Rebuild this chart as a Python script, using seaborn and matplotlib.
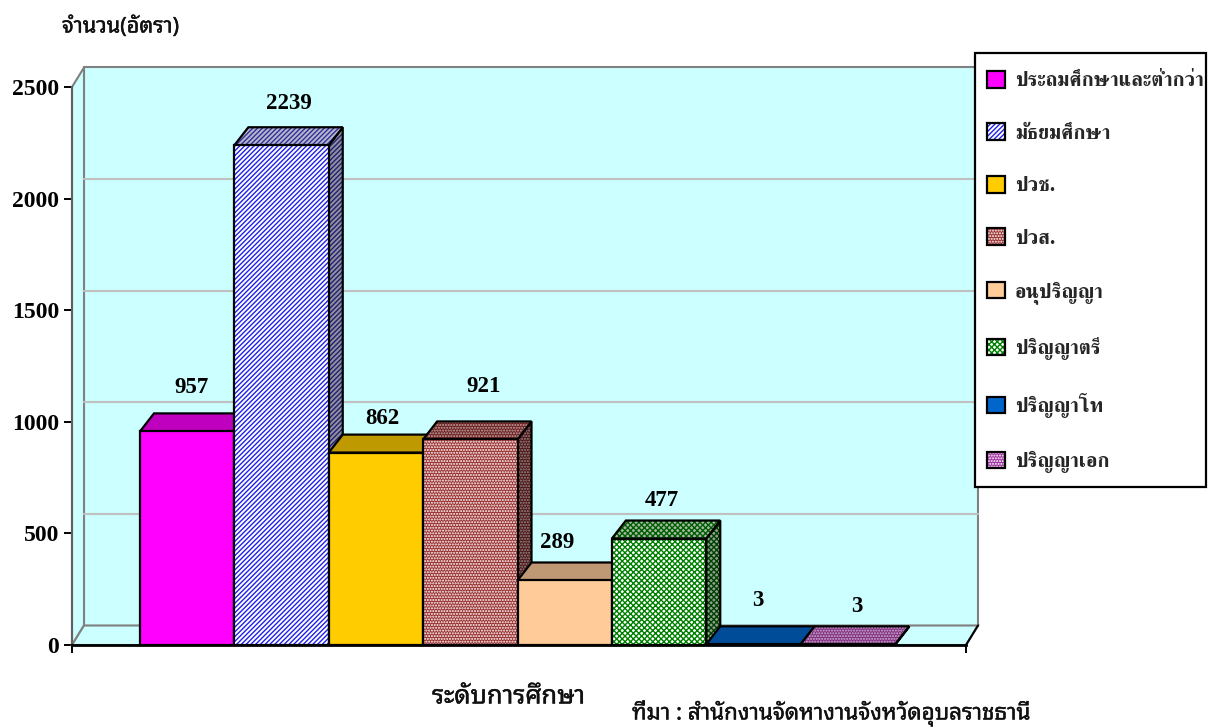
import matplotlib
matplotlib.use("Agg")
import matplotlib.pyplot as plt
import matplotlib.patheffects as pe
from matplotlib.legend_handler import HandlerBase
from matplotlib.patches import Patch, Polygon, Rectangle
import seaborn as sns

# Datos
niveles = ["ประถมศึกษาและต่ำกว่า", "มัธยมศึกษา", "ปวช.", "ปวส.", "อนุปริญญา",
           "ปริญญาตรี", "ปริญญาโท", "ปริญญาเอก"]
cantidades = [957, 2239, 862, 921, 289, 477, 3, 3]
ticks_y = [0, 500, 1000, 1500, 2000, 2500]

# Estilos por barra: cara, trama, color de trama, tapa, lateral
caras = ["#FF00FF", "#FFFFFF", "#FFCC00", "#9A3030", "#FFCC99", "#FFFFFF", "#0066CC", "#A030A0"]
tramas = [None, "///////", None, "......", None, "xxxxxx", None, "......"]
color_trama = ["#FF00FF", "#2020E8", "#FFCC00", "#FFFFFF", "#FFCC99", "#008000", "#0066CC", "#FFFFFF"]
tapas = ["#BF00BF", "#B8B8C8", "#BF9900", "#6A2020", "#BF9973", "#A8B8A8", "#004C99", "#803080"]
tapas_trama = ["#BF00BF", "#3030A0", "#BF9900", "#C8A8A8", "#BF9973", "#006000", "#004C99", "#D0B0D0"]
laterales = ["#A000A0", "#9090A0", "#A08000", "#4A1818", "#A08060", "#90A090", "#003C80", "#602060"]
lat_trama = ["#A000A0", "#202070", "#A08000", "#A08888", "#A08060", "#004000", "#003C80", "#B090B0"]

# Desplazamiento de etiquetas en pixeles respecto al centro de cada barra
etiqueta_dx = [4, 7, 6, 13, -8, 3, 4, 9]
etiqueta_dy = [44, 42, 34, 53, 38, 38, 44, 38]

sns.set_style("white")
plt.rcParams["hatch.linewidth"] = 1.0
plt.rcParams["axes.unicode_minus"] = False

W, H = 1210, 728
fig = plt.figure(figsize=(W / 100, H / 100), dpi=100)
ax = fig.add_axes([72 / W, (H - 645) / H, (966 - 72) / W, (645 - 87) / H])

# ancho de barra 94.4 px, primera barra empieza en x=140
px_x = 94.4
px_y = (645 - 87) / 2500
x0, x1 = -0.5 - (140 - 72) / px_x, 7.5 + (966 - 895) / px_x

# profundidad de la pared y de las barras
pared_dx, pared_dy = 12 / px_x, 19.5 / px_y
barra_dx, barra_dy = 14 / px_x, 18 / px_y

# Pared de fondo, piso y pared lateral
fondo = "#CCFFFF"
gris = "#808080"
kw = dict(facecolor=fondo, edgecolor=gris, linewidth=1.5, clip_on=False, zorder=1)
ax.add_patch(Polygon([(x0 + pared_dx, pared_dy), (x1 + pared_dx, pared_dy),
                      (x1 + pared_dx, 2500 + pared_dy), (x0 + pared_dx, 2500 + pared_dy)], **kw))
ax.add_patch(Polygon([(x0, 0), (x0 + pared_dx, pared_dy), (x0 + pared_dx, 2500 + pared_dy), (x0, 2500)], **kw))
ax.add_patch(Polygon([(x0, 0), (x1, 0), (x1 + pared_dx, pared_dy), (x0 + pared_dx, pared_dy)], **kw))
ax.plot([x1, x1 + pared_dx], [0, pared_dy], color="black", lw=1.5, clip_on=False, zorder=2)
for t in ticks_y[1:-1]:
    ax.plot([x0 + pared_dx, x1 + pared_dx], [t + pared_dy] * 2, color="#C0C0C0", lw=1.5, clip_on=False, zorder=2)

# Barras
antes = len(ax.patches)
df = {"nivel": niveles, "cantidad": cantidades}
sns.barplot(data=df, x="nivel", y="cantidad", hue="nivel", palette=caras, width=1.0,
            dodge=False, legend=False, saturation=1, ax=ax)
barras = list(ax.patches)[antes:]
ax.set_xlim(x0, x1)
ax.set_ylim(0, 2500)

for i, barra in enumerate(barras):
    z = 3 + i * 0.1
    izq, ancho, alto = barra.get_x(), barra.get_width(), barra.get_height()
    der = izq + ancho
    # lateral y tapa
    lateral = [(der, 0), (der + barra_dx, barra_dy), (der + barra_dx, alto + barra_dy), (der, alto)]
    tapa = [(izq, alto), (der, alto), (der + barra_dx, alto + barra_dy), (izq + barra_dx, alto + barra_dy)]
    ax.add_patch(Polygon(lateral, facecolor=laterales[i], edgecolor=lat_trama[i], hatch=tramas[i], lw=0, zorder=z, clip_on=False))
    ax.add_patch(Polygon(lateral, fill=False, edgecolor="black", lw=1.6, zorder=z + 0.01, clip_on=False))
    ax.add_patch(Polygon(tapa, facecolor=tapas[i], edgecolor=tapas_trama[i], hatch=tramas[i], lw=0, zorder=z + 0.02, clip_on=False))
    ax.add_patch(Polygon(tapa, fill=False, edgecolor="black", lw=1.6, zorder=z + 0.03, clip_on=False))
    # cara frontal
    barra.set_facecolor(caras[i])
    barra.set_edgecolor(color_trama[i])
    barra.set_hatch(tramas[i])
    barra.set_linewidth(0)
    barra.set_zorder(z + 0.04)
    ax.add_patch(Rectangle((izq, 0), ancho, alto, fill=False, edgecolor="black", lw=1.6, zorder=z + 0.05))
    # etiqueta de valor
    ax.annotate(str(cantidades[i]), (izq + ancho / 2, alto), xytext=(etiqueta_dx[i], etiqueta_dy[i]),
                textcoords="offset pixels", ha="center", va="center", fontsize=16.5, fontweight="bold",
                family="Liberation Serif", color="black", zorder=10, annotation_clip=False)

# Ejes
ax.set_xlabel("")
ax.set_ylabel("")
ax.set_facecolor("none")
ax.set_xticks([x0, x1])
ax.set_xticklabels(["", ""])
ax.set_yticks(ticks_y)
ax.set_yticklabels([str(t) for t in ticks_y], fontsize=17, fontweight="bold", family="Liberation Serif", color="black")
ax.tick_params(axis="both", which="both", left=True, bottom=True, length=5.8, width=1.4, color="black", pad=3.6)
sns.despine(ax=ax, top=True, right=True)
ax.spines["left"].set_color("#606060")
ax.spines["left"].set_linewidth(1.5)
ax.spines["left"].set_zorder(20)
ax.spines["bottom"].set_color("black")
ax.spines["bottom"].set_linewidth(2)
ax.spines["bottom"].set_zorder(20)


class CuadroConBorde(HandlerBase):
    """Cuadro de leyenda con trama de color y borde negro."""

    def create_artists(self, legend, orig, xd, yd, width, height, fontsize, trans):
        relleno = Rectangle((-xd, -yd), width, height, facecolor=orig.get_facecolor(),
                            edgecolor=orig.get_edgecolor(), hatch=orig.get_hatch(), lw=0, transform=trans)
        borde = Rectangle((-xd, -yd), width, height, fill=False, edgecolor="black", lw=1.6, transform=trans)
        return [relleno, borde]


# Leyenda: marco aparte para fijar el relleno horizontal y vertical
fig.add_artist(Rectangle((975 / W, 1 - 487 / H), (1206 - 975) / W, (487 - 53) / H, transform=fig.transFigure,
                         facecolor="white", edgecolor="black", lw=1.6, zorder=30))
entradas = [Patch(facecolor=caras[i], edgecolor=color_trama[i], hatch=tramas[i], label=niveles[i])
            for i in range(len(niveles))]
marcos = fig.legend(handles=entradas, loc="upper left", bbox_to_anchor=(987 / W, 1 - 71 / H),
                    bbox_transform=fig.transFigure, frameon=False, borderaxespad=0, borderpad=0,
                    labelspacing=1.62, handlelength=0.88, handleheight=0.88, handletextpad=0.48,
                    handler_map={Patch: CuadroConBorde()},
                    prop={"family": ["FreeSerif", "DejaVu Sans"], "weight": "bold", "size": 14.7})
marcos.set_zorder(31)

# Textos: trazo fino para engrosar la fuente regular
fuente = ["Noto Sans Thai Looped", "DejaVu Sans"]
trazo = [pe.withStroke(linewidth=0.3, foreground="#111111")]
fig.text(62 / W, 1 - 27 / H, "จำนวน(อัตรา)", family=fuente, fontsize=15.6, va="center", color="#111111", path_effects=trazo)
fig.text(432 / W, 1 - 697 / H, "ระดับการศึกษา", family=fuente, fontsize=18.3, va="center", color="#111111", path_effects=trazo)
fig.text(632 / W, 1 - 713 / H, "ที่มา : สำนักงานจัดหางานจังหวัดอุบลราชธานี", family=fuente, fontsize=16.1, va="center", color="#111111", path_effects=trazo)

fig.savefig("out.png", dpi=100)
